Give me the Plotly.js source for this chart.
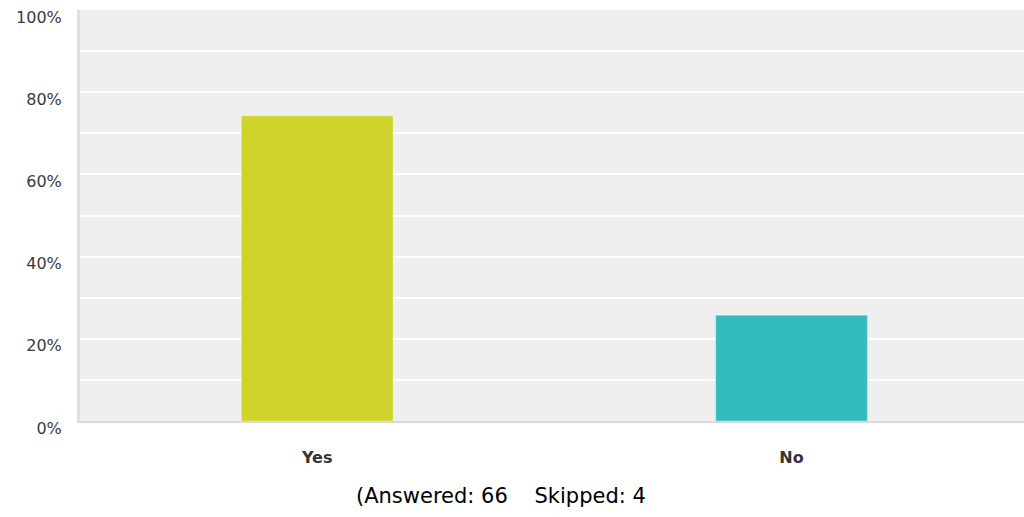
<!DOCTYPE html>
<html>
<head>
<meta charset="utf-8">
<script src="https://cdn.plot.ly/plotly-3.0.1.min.js"></script>
<style>html,body{margin:0;padding:0;background:#fff;}#chart{width:1024px;height:517px;}</style>
</head>
<body>
<div id="chart"></div>
<script>
const categories = ["Yes", "No"];
const percentValues = [74.24, 25.76];
const barColors = ["#cfd42a", "#33bcbe"];
const yTickValues = [0, 20, 40, 60, 80, 100];
const yTickLabels = ["0%", "20%", "40%", "60%", "80%", "100%"];
const footnote = "(Answered: 66    Skipped: 4";

const trace = {
  type: "bar",
  x: categories,
  y: percentValues,
  marker: {color: barColors, line: {color: "rgba(255,255,255,0.35)", width: 1}},
  hoverinfo: "none"
};

const layout = {
  width: 1024, height: 517,
  margin: {l: 80, r: 0, t: 10, b: 96},
  paper_bgcolor: "#ffffff",
  plot_bgcolor: "#efefef",
  bargap: 0.68,
  showlegend: false,
  font: {family: "DejaVu Sans, Verdana, sans-serif", color: "#333333"},
  xaxis: {
    type: "category",
    range: [-0.5, 1.49],
    showgrid: false,
    showline: true, linecolor: "#d9d9d9", linewidth: 2,
    ticks: "", ticklabelstandoff: 21,
    tickfont: {size: 16, color: "#333333", family: "DejaVu Sans, Verdana, sans-serif", weight: "bold"},
    fixedrange: true
  },
  yaxis: {
    range: [0, 100],
    tickmode: "array",
    tickvals: yTickValues,
    ticktext: yTickLabels,
    showgrid: true, gridcolor: "#ffffff", gridwidth: 2,
    minor: {dtick: 10, tick0: 0, showgrid: true, gridcolor: "#ffffff", gridwidth: 2},
    showline: true, linecolor: "#e0e0e0", linewidth: 3,
    zeroline: false,
    ticks: "", ticklabelstandoff: 12, ticklabelshift: 7,
    tickfont: {size: 16, color: "#3a3a3a", family: "DejaVu Sans, Verdana, sans-serif"},
    fixedrange: true
  },
  annotations: [{
    text: footnote,
    xref: "paper", yref: "paper",
    x: 0.446, y: -0.1825,
    xanchor: "center", yanchor: "middle",
    showarrow: false,
    font: {family: "DejaVu Sans, sans-serif", size: 21, color: "#000000"}
  }]
};

Plotly.newPlot("chart", [trace], layout, {displayModeBar: false, staticPlot: true});
</script>
</body>
</html>
